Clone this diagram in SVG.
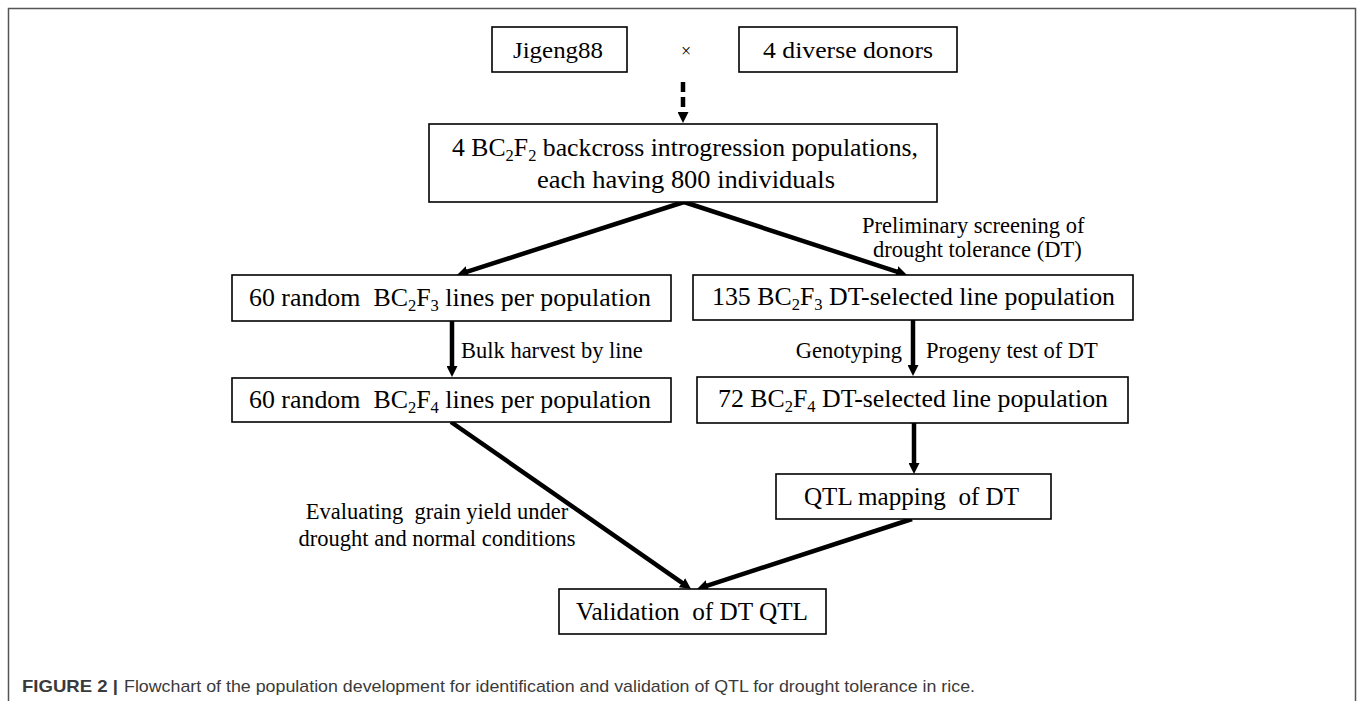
<svg xmlns="http://www.w3.org/2000/svg" width="1358" height="701" viewBox="0 0 1358 701">
<style>
.box{fill:#fff;stroke:#000;stroke-width:1.6}
.t{font-family:"Liberation Serif","Times New Roman",serif;font-size:25px;fill:#000;text-anchor:middle}
.l{font-family:"Liberation Serif","Times New Roman",serif;font-size:22.5px;fill:#000}
.s{font-size:16px}
.a{stroke:#000;stroke-width:4.5;fill:none;marker-end:url(#ah)}
.cap{font-family:"Liberation Sans",Arial,sans-serif;font-size:17px;fill:#3a3a3a}
</style>
<defs>
<marker id="ah" viewBox="0 0 10 10" refX="3" refY="5" markerWidth="11" markerHeight="11" markerUnits="userSpaceOnUse" orient="auto">
<path d="M0,0 L10,5 L0,10 z" fill="#000"/>
</marker>
</defs>
<rect x="0" y="0" width="1358" height="701" fill="#fff"/>
<path d="M8.5,710 V8.5 H1355.5 V710" fill="none" stroke="#555" stroke-width="1.5"/>

<g id="connectors">
<line class="a" x1="683" y1="82" x2="683" y2="115.3" stroke-dasharray="10,5" stroke-width="5"/>
<line class="a" x1="684" y1="202" x2="464.3" y2="272.6"/>
<line class="a" x1="684" y1="202" x2="899.7" y2="272.6"/>
<line class="a" x1="452" y1="321" x2="452" y2="369.3"/>
<line class="a" x1="913" y1="320" x2="913" y2="368.3"/>
<line class="a" x1="914" y1="423" x2="914" y2="466.3"/>
<line class="a" x1="451" y1="422" x2="684.7" y2="584.6"/>
<line class="a" x1="912" y1="519" x2="704.3" y2="586.6"/>
</g>

<g id="jigeng">
<rect class="box" x="492" y="27" width="135" height="45"/>
<text class="t" x="558" y="58" style="font-size:24px" textLength="90" lengthAdjust="spacingAndGlyphs">Jigeng88</text>
</g>
<g id="cross">
<text class="t" x="686" y="57" style="font-size:18px">×</text>
</g>
<g id="donors">
<rect class="box" x="739" y="27" width="218" height="45"/>
<text class="t" x="848" y="58" style="font-size:24px" textLength="170" lengthAdjust="spacingAndGlyphs">4 diverse donors</text>
</g>
<g id="bc2f2">
<rect class="box" x="429" y="124" width="508" height="78"/>
<text class="t" x="685" y="156" textLength="466" lengthAdjust="spacingAndGlyphs">4 BC<tspan class="s" dy="5">2</tspan><tspan dy="-5">F</tspan><tspan class="s" dy="5">2</tspan><tspan dy="-5"> backcross introgression populations,</tspan></text>
<text class="t" x="686" y="188" textLength="298" lengthAdjust="spacingAndGlyphs">each having 800 individuals</text>
</g>
<g id="random-f3">
<rect class="box" x="232" y="275" width="439" height="46"/>
<text class="t" x="450" y="306" textLength="402" lengthAdjust="spacingAndGlyphs" xml:space="preserve">60 random  BC<tspan class="s" dy="5">2</tspan><tspan dy="-5">F</tspan><tspan class="s" dy="5">3</tspan><tspan dy="-5"> lines per population</tspan></text>
</g>
<g id="dt-f3">
<rect class="box" x="693" y="275" width="440" height="45"/>
<text class="t" x="913.5" y="305" textLength="403" lengthAdjust="spacingAndGlyphs">135 BC<tspan class="s" dy="5">2</tspan><tspan dy="-5">F</tspan><tspan class="s" dy="5">3</tspan><tspan dy="-5"> DT-selected line population</tspan></text>
</g>
<g id="random-f4">
<rect class="box" x="232" y="378" width="439" height="44"/>
<text class="t" x="450" y="408" textLength="402" lengthAdjust="spacingAndGlyphs" xml:space="preserve">60 random  BC<tspan class="s" dy="5">2</tspan><tspan dy="-5">F</tspan><tspan class="s" dy="5">4</tspan><tspan dy="-5"> lines per population</tspan></text>
</g>
<g id="dt-f4">
<rect class="box" x="697" y="377" width="431" height="46"/>
<text class="t" x="913" y="407" textLength="390" lengthAdjust="spacingAndGlyphs">72 BC<tspan class="s" dy="5">2</tspan><tspan dy="-5">F</tspan><tspan class="s" dy="5">4</tspan><tspan dy="-5"> DT-selected line population</tspan></text>
</g>
<g id="qtl">
<rect class="box" x="776" y="474" width="275" height="45"/>
<text class="t" x="911.5" y="505" textLength="215" lengthAdjust="spacingAndGlyphs" xml:space="preserve">QTL mapping  of DT</text>
</g>
<g id="validation">
<rect class="box" x="559" y="589" width="267" height="45"/>
<text class="t" x="692" y="620" textLength="232" lengthAdjust="spacingAndGlyphs" xml:space="preserve">Validation  of DT QTL</text>
</g>

<g id="labels">
<text class="l" x="862" y="233">Preliminary screening of</text>
<text class="l" x="873" y="257">drought tolerance (DT)</text>
<text class="l" x="461" y="358">Bulk harvest by line</text>
<text class="l" x="902" y="358" text-anchor="end">Genotyping</text>
<text class="l" x="926" y="358">Progeny test of DT</text>
<text class="l" x="437" y="519" text-anchor="middle" xml:space="preserve">Evaluating  grain yield under</text>
<text class="l" x="437" y="546" text-anchor="middle">drought and normal conditions</text>
</g>

<text class="cap" x="22" y="692" textLength="96" lengthAdjust="spacingAndGlyphs" font-weight="bold" fill="#222">FIGURE 2 |</text>
<text class="cap" x="124" y="692" textLength="851" lengthAdjust="spacingAndGlyphs">Flowchart of the population development for identification and validation of QTL for drought tolerance in rice.</text>
</svg>
